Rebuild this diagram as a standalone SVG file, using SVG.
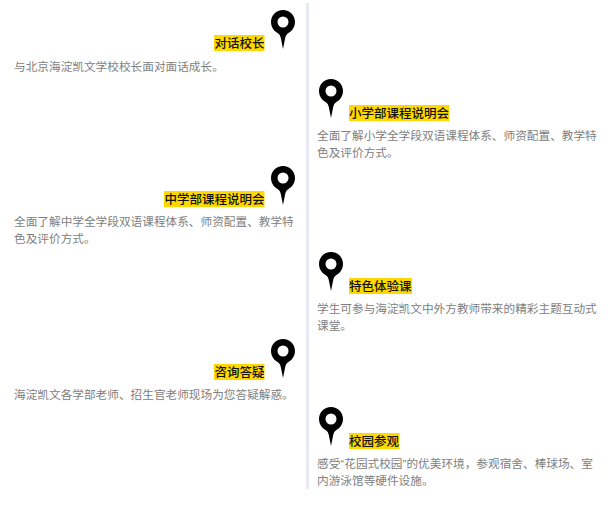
<svg xmlns="http://www.w3.org/2000/svg" width="611" height="510" viewBox="0 0 611 510">
<style>
text{font-family:"Noto Sans CJK SC","Liberation Sans",sans-serif}
.t{font-size:12.5px;fill:#111;font-weight:500}
.r{text-anchor:end}
.b{font-size:11.67px;fill:#808080}
.q{font-family:"Liberation Sans",sans-serif}
.h{fill:#ffd800}
</style>
<defs>
<path id="pin" fill-rule="evenodd" fill="#000" d="M0-13C-6.800-13-12-7.700-12-1.200C-12 4-9.500 7.500-5.500 10C-3.500 11.300-2.500 13-2 16L0 26L2 16C2.500 13 3.500 11.300 5.500 10C9.500 7.500 12 4 12-1.200C12-7.700 6.800-13 0-13ZM0-6.500A5.500 5.500 0 1 1 0 4.500A5.500 5.500 0 1 1 0-6.500Z"/>
</defs>
<rect width="611" height="510" fill="#fff"/>
<g id="connectors"><rect x="306" y="3" width="3" height="486" fill="#e6e8f4"/></g>
<g id="n1"><use href="#pin" x="283" y="23"/><rect class="h" x="214" y="35" width="50.500" height="16"/><text class="t r" x="264.500" y="48">对话校长</text><text class="b" x="14" y="71">与北京海淀凯文学校校长面对面话成长。</text></g>
<g id="n2"><use href="#pin" x="331" y="92"/><rect class="h" x="349" y="105" width="100.500" height="16"/><text class="t" x="349" y="117.500">小学部课程说明会</text><text class="b" x="317" y="140">全面了解小学全学段双语课程体系、师资配置、教学特</text><text class="b" x="317" y="157">色及评价方式。</text></g>
<g id="n3"><use href="#pin" x="283" y="179"/><rect class="h" x="164" y="191" width="100.500" height="16"/><text class="t r" x="264.500" y="204">中学部课程说明会</text><text class="b" x="14" y="226">全面了解中学全学段双语课程体系、师资配置、教学特</text><text class="b" x="14" y="243">色及评价方式。</text></g>
<g id="n4"><use href="#pin" x="331" y="265"/><rect class="h" x="349" y="278" width="63" height="16"/><text class="t" x="349" y="290.500">特色体验课</text><text class="b" x="317" y="313">学生可参与海淀凯文中外方教师带来的精彩主题互动式</text><text class="b" x="317" y="330">课堂。</text></g>
<g id="n5"><use href="#pin" x="283" y="352"/><rect class="h" x="214" y="364" width="50.500" height="16"/><text class="t r" x="264.500" y="377">咨询答疑</text><text class="b" x="14" y="399">海淀凯文各学部老师、招生官老师现场为您答疑解惑。</text></g>
<g id="n6"><use href="#pin" x="331" y="420"/><rect class="h" x="349" y="433" width="50.500" height="16"/><text class="t" x="349" y="445.500">校园参观</text><text class="b" x="317" y="468">感受<tspan class="q">“</tspan>花园式校园<tspan class="q">”</tspan>的优美环境，参观宿舍、棒球场、室</text><text class="b" x="317" y="485">内游泳馆等硬件设施。</text></g>
</svg>
